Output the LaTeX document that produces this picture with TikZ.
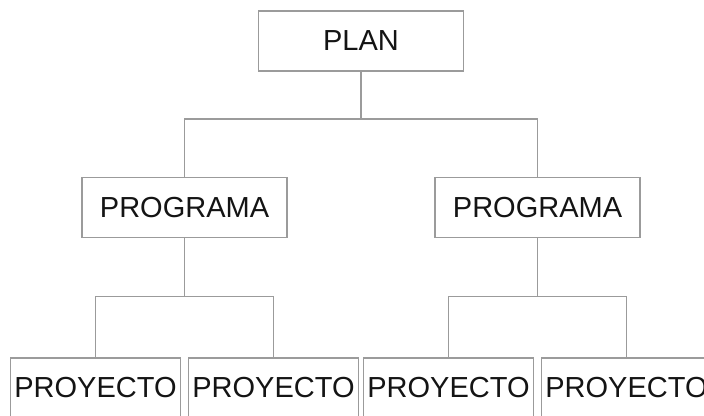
\documentclass[tikz,border=0pt]{standalone}
\usepackage{fontspec}
\setmainfont{Liberation Sans}
\usepackage{xcolor}
\usepackage{tikz}
\usetikzlibrary{positioning, trees}
\definecolor{linecolor}{RGB}{155,155,155}
\definecolor{textcolor}{RGB}{20,20,20}

\begin{document}
\begin{tikzpicture}[
    x=1pt, y=1pt,
    level 1/.style={sibling distance=353pt, level distance=166.5pt,
        edge from parent path={(\tikzparentnode.south) -- +(0,-47pt) -| (\tikzchildnode.north)}},
    level 2/.style={sibling distance=178pt, level distance=180.5pt,
        edge from parent path={(\tikzparentnode.south) -- +(0,-58pt) -| (\tikzchildnode.north)}},
    edge from parent/.style={draw=linecolor, line width=1.6pt},
    every node/.style={draw=linecolor, line width=1.6pt, fill=white, text=textcolor,
        minimum width=205pt, minimum height=60pt, inner xsep=4pt,
        font=\fontsize{29}{34}\selectfont, align=center}
]
    \useasboundingbox (0,0) rectangle (704,-415);
    \node (plan) at (361,-41) {PLAN}
        child {node (progA) {PROGRAMA}
            child {node[minimum width=168pt] (proyA) {PROYECTO}}
            child {node[minimum width=168pt] (proyB) {PROYECTO}}
        }
        child {node (progB) {PROGRAMA}
            child {node[minimum width=168pt] (proyC) {PROYECTO}}
            child {node[minimum width=168pt] (proyD) {PROYECTO}}
        };
\end{tikzpicture}
\end{document}
